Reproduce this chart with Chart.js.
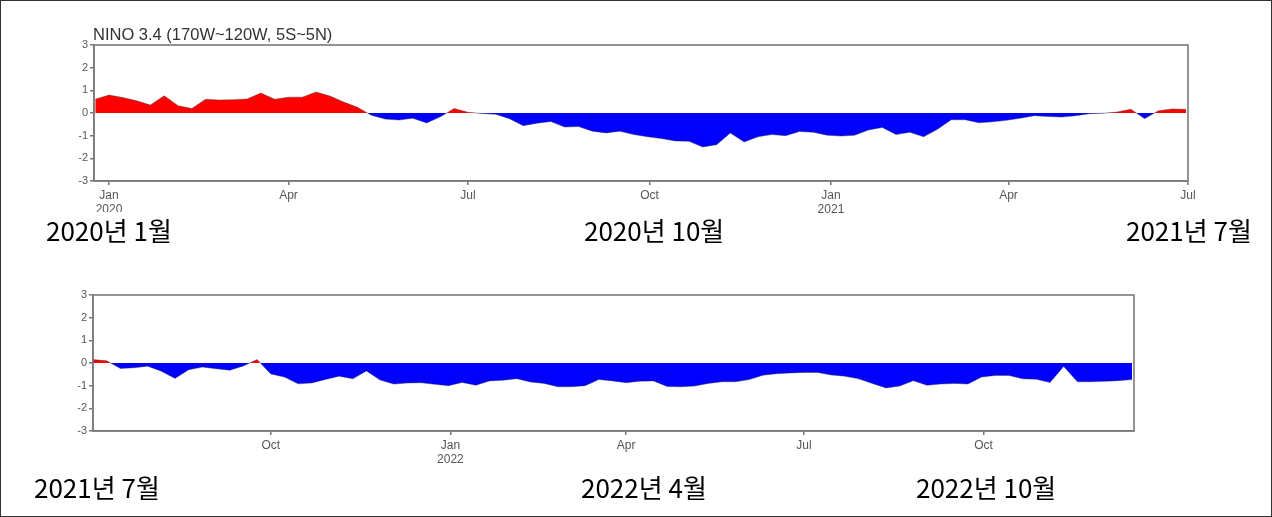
<!DOCTYPE html>
<html><head><meta charset="utf-8">
<script src="https://cdn.jsdelivr.net/npm/chart.js@4"></script>
<style>
html,body{margin:0;padding:0;background:#fff;}
body{width:1272px;height:517px;position:relative;overflow:hidden;box-sizing:border-box;border:1px solid #333;}
canvas{position:absolute;left:-1px;}
#c1{top:-1px;} #c2{top:249px;}
.title{position:absolute;left:92px;top:24px;font:16.5px "Liberation Sans",Arial,sans-serif;color:#333;}
.kr{position:absolute;font:26px "Noto Sans CJK KR",sans-serif;color:#000;background:#fff;line-height:30px;padding:3px 1px 0 1px;}
</style></head><body>
<canvas id="c1" width="1272" height="240"></canvas>
<canvas id="c2" width="1272" height="240"></canvas>
<div class="title">NINO 3.4 (170W~120W, 5S~5N)</div>
<div class="kr" style="left:44px;top:211px">2020년 1월</div>
<div class="kr" style="left:582px;top:211px">2020년 10월</div>
<div class="kr" style="left:1124px;top:211px">2021년 7월</div>
<div class="kr" style="left:32px;top:468px">2021년 7월</div>
<div class="kr" style="left:579px;top:468px">2022년 4월</div>
<div class="kr" style="left:914px;top:468px">2022년 10월</div>
<script>
// ---- data (weekly Nino 3.4 SST anomaly, degC) ----
const topStart = '2019-12-25';
const topValues = [0.61,0.79,0.68,0.54,0.35,0.76,0.32,0.20,0.61,0.57,
  0.59,0.62,0.88,0.61,0.70,0.70,0.93,0.75,0.48,0.25,
  -0.10,-0.27,-0.31,-0.23,-0.44,-0.17,0.20,0.03,-0.02,-0.06,
  -0.25,-0.56,-0.45,-0.38,-0.62,-0.60,-0.80,-0.88,-0.80,-0.95,
  -1.05,-1.13,-1.23,-1.25,-1.50,-1.40,-0.88,-1.28,-1.05,-0.95,
  -1.00,-0.82,-0.85,-0.98,-1.02,-0.98,-0.75,-0.64,-0.95,-0.85,
  -1.05,-0.72,-0.30,-0.30,-0.43,-0.39,-0.32,-0.23,-0.12,-0.15,
  -0.18,-0.12,-0.03,-0.01,0.04,0.17,-0.25,0.10,0.18,0.16];
const bottomStart = '2021-07-02';
const bottomValues = [0.15,0.10,-0.24,-0.21,-0.14,-0.36,-0.68,-0.30,-0.18,-0.25,
  -0.32,-0.13,0.15,-0.48,-0.62,-0.92,-0.88,-0.73,-0.58,-0.70,
  -0.35,-0.75,-0.93,-0.88,-0.87,-0.94,-1.00,-0.86,-0.98,-0.79,
  -0.76,-0.69,-0.84,-0.90,-1.05,-1.05,-1.00,-0.73,-0.79,-0.87,
  -0.80,-0.79,-1.04,-1.05,-1.02,-0.90,-0.83,-0.83,-0.73,-0.54,
  -0.47,-0.44,-0.42,-0.42,-0.53,-0.58,-0.70,-0.90,-1.10,-1.02,
  -0.78,-0.98,-0.93,-0.90,-0.93,-0.62,-0.55,-0.55,-0.70,-0.72,
  -0.86,-0.15,-0.83,-0.83,-0.81,-0.78,-0.73];
const topTickDates = ['2020-01-01','2020-04-01','2020-07-01','2020-10-01','2021-01-01','2021-04-01','2021-07-01'];
const topTickLabels = [['Jan','2020'],'Apr','Jul','Oct',['Jan','2021'],'Apr','Jul'];
const bottomTickDates = ['2021-10-01','2022-01-01','2022-04-01','2022-07-01','2022-10-01'];
const bottomTickLabels = ['Oct',['Jan','2022'],'Apr','Jul','Oct'];
const yTicks = [-3,-2,-1,0,1,2,3];

// ---- helpers ----
const ORIGIN = Date.UTC(2020,0,1);
function day(s){const [y,m,d]=s.split('-').map(Number);return (Date.UTC(y,m-1,d)-ORIGIN)/864e5;}
function weekly(start, vals){const d0=day(start);return vals.map((v,i)=>({x:d0+7*i,y:v}));}

const framePlugin={id:'frame',afterDraw(chart){const {ctx,chartArea:a}=chart;ctx.save();ctx.strokeStyle='#7a7a7a';ctx.lineWidth=1.6;ctx.strokeRect(a.left,a.top,a.right-a.left,a.bottom-a.top);ctx.restore();}};

function makeChart(id, start, vals, tickDates, tickLabels, xmin, xmax, padRight, padLeft){
  const tickVals = tickDates.map(day);
  return new Chart(document.getElementById(id),{
    type:'line',
    data:{datasets:[{data:weekly(start,vals),
      borderColor:'rgba(50,50,50,0.4)',borderWidth:1,pointRadius:0,tension:0,
      fill:{target:{value:0},above:'#ff0000',below:'#0000ff'}}]},
    options:{responsive:false,animation:false,
      layout:{padding:{left:padLeft,right:padRight,top:45,bottom:19}},
      plugins:{legend:{display:false},tooltip:{enabled:false}},
      scales:{
        x:{type:'linear',min:xmin,max:xmax,
          afterBuildTicks:(s)=>{s.ticks=tickVals.map(v=>({value:v}));},
          afterFit:(s)=>{s.height=40;},
          ticks:{autoSkip:false,maxRotation:0,padding:4,color:'#555',font:{family:'Liberation Sans',size:12,lineHeight:1.15},
            callback:(v)=>{const i=tickVals.indexOf(v);return i>=0?tickLabels[i]:'';}},
          grid:{drawOnChartArea:false,drawTicks:true,tickLength:4,color:'#777',lineWidth:1.5},
          border:{display:true,color:'#7a7a7a',width:1.6}},
        y:{min:-3,max:3,
          afterBuildTicks:(s)=>{s.ticks=yTicks.map(v=>({value:v}));},
          afterFit:(s)=>{s.width=30;},
          ticks:{padding:2,color:'#555',font:{family:'Liberation Sans',size:11}},
          grid:{drawOnChartArea:false,drawTicks:true,tickLength:4,color:'#777',lineWidth:1.5},
          border:{display:true,color:'#7a7a7a',width:1.6}}
      }},
    plugins:[framePlugin]
  });
}
makeChart('c1', topStart, topValues, topTickDates, topTickLabels, -7.6, day('2021-07-01'), 1272-1188, 94-30);
makeChart('c2', bottomStart, bottomValues, bottomTickDates, bottomTickLabels, day('2021-07-02'), day('2022-12-17'), 1272-1134, 93-30);
</script>
</body></html>
